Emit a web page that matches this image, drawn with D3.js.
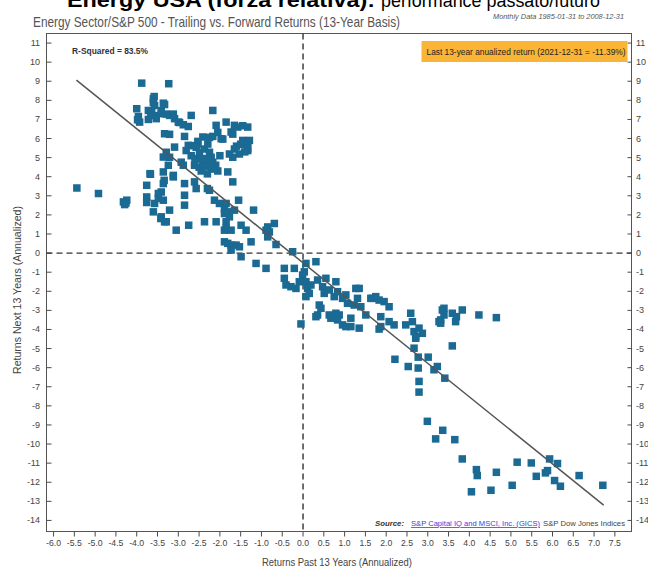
<!DOCTYPE html>
<html><head><meta charset="utf-8">
<script src="https://cdn.jsdelivr.net/npm/d3@7"></script>
<style>
html,body{margin:0;padding:0;background:#fff;overflow:hidden}
svg{display:block}
text{font-family:"Liberation Sans",Arial,sans-serif}
</style></head>
<body><svg id="c" width="648" height="568"></svg>
<script>
// ---- data ----
const pastReturns = [
-3.88,-3.23,-4.0,-3.98,-3.93,-3.96,-3.72,-3.6,-3.58,-3.6,-3.57,-3.66,-3.72,-3.64,-3.53,-3.53,-3.41,-3.41,-3.36,-3.33,
-3.29,-3.21,-3.12,-3.09,-3.0,-2.97,-2.88,-2.76,-2.69,-3.33,-3.21,-3.09,-2.85,-2.76,-2.69,-2.53,-2.53,-2.41,-2.25,-2.17,
-2.17,-2.05,-2.09,-1.97,-1.93,-1.85,-1.73,-1.69,-1.65,-1.57,-1.45,-1.33,-1.45,-1.29,-1.33,-1.33,-1.33,-1.65,-1.53,-1.77,
-1.69,-3.29,-3.21,-3.36,-2.93,-2.81,-2.69,-2.57,-2.49,-2.45,-2.37,-2.29,-2.25,-2.21,-2.41,-2.17,-2.5,-2.35,-2.3,-2.2,
-2.1,-2.0,-1.6,-1.5,-1.4,
-5.44,-4.92,-4.32,-4.24,-4.29,-4.26,-3.76,-3.67,-3.68,-3.76,-3.76,-3.6,-3.57,-3.48,-3.41,-3.48,-3.36,-3.42,-3.41,-3.33,
-3.29,-3.21,-3.05,-3.36,-3.34,-3.36,-3.24,-3.12,-3.12,-2.88,-2.85,-2.85,-2.85,-2.75,-2.61,-2.57,-2.61,-2.37,-2.3,-2.25,
-2.13,-2.09,-2.01,-1.85,-1.81,-1.69,-1.89,-1.89,-1.81,-1.77,-1.85,-1.85,-1.89,-1.73,-1.65,-1.55,-1.49,-1.37,-1.25,-1.19,
-1.89,-1.81,-1.73,-1.61,-1.53,-1.73,-1.49,-1.13,-0.89,-0.89,-0.85,-0.81,-0.85,-0.69,-0.65,-0.45,-0.25,-0.21,0.07,0.31,
-0.45,-0.41,-0.29,-0.17,-0.09,-0.01,0.03,0.07,0.11,0.19,0.07,0.15,-0.05,0.35,0.47,0.55,0.51,0.63,0.79,0.75,
0.83,0.95,1.03,1.07,1.27,1.35,1.31,1.23,1.39,1.51,1.63,1.67,1.75,1.83,1.95,2.07,1.87,2.07,2.19,0.39,
0.43,0.35,0.31,0.63,0.71,0.79,0.87,0.83,0.95,1.03,1.15,1.35,1.15,1.87,1.83,0.67,2.47,2.59,2.63,2.67,
2.79,2.87,2.71,2.71,3.27,3.39,3.39,3.35,3.31,3.31,3.59,3.67,3.69,3.83,4.23,4.65,3.59,2.67,2.77,3.01,
2.21,2.53,2.77,3.15,3.23,3.41,2.79,2.79,
2.99,3.36,3.19,3.65,3.83,4.17,4.19,4.05,4.65,4.52,5.03,5.15,5.49,5.61,5.83,5.88,5.93,6.12,6.05,6.19,6.64,7.21,
-2.45,-2.3,-2.15,-2.05,-2.4,-2.6
];
const nextReturns = [
8.9,8.87,7.56,6.98,6.86,7.15,7.47,8.08,8.2,7.89,7.73,7.21,7.0,7.37,7.04,7.2,7.3,7.46,7.85,7.78,
7.28,7.21,7.28,7.04,6.86,6.84,6.72,6.63,7.21,6.25,6.22,5.55,6.11,5.64,5.63,5.85,5.71,6.08,6.06,7.47,
6.11,6.32,6.69,5.99,5.97,6.86,6.34,6.23,6.69,6.6,6.67,6.6,5.9,5.9,5.8,5.47,5.37,5.45,5.19,5.19,
5.02,5.28,5.02,5.03,4.76,5.37,5.1,5.54,5.28,4.93,5.45,5.71,5.28,5.02,4.76,4.76,4.5,4.55,4.9,4.4,
4.6,5.1,5.6,5.7,5.3,
3.41,3.12,2.68,2.77,2.54,2.62,3.55,4.13,4.16,2.94,2.65,2.16,2.6,3.12,3.2,2.86,2.77,1.81,1.9,1.64,
1.64,2.25,1.2,4.25,3.81,3.64,4.6,3.99,4.07,4.6,3.64,3.03,2.51,1.46,3.73,3.38,4.6,1.64,3.38,3.29,
2.77,1.64,2.6,2.6,4.25,3.73,2.33,2.07,2.16,1.9,1.64,1.29,1.2,1.2,2.25,2.77,1.46,1.2,0.59,2.25,
0.59,0.51,0.42,0.42,0.33,0.16,-0.19,-0.54,-0.8,1.2,1.37,1.11,0.85,1.55,0.45,-0.8,0.07,-0.8,-0.54,-0.45,
-1.32,-1.67,-1.76,-1.85,-1.5,-1.15,-0.98,-1.5,-1.85,-1.67,-2.28,-2.11,-3.71,-1.41,-1.76,-1.32,-2.11,-1.93,-1.5,-2.28,
-2.02,-2.37,-2.19,-2.63,-1.85,-1.85,-2.37,-2.72,-2.81,-3.24,-2.37,-2.37,-2.28,-2.46,-2.54,-2.81,-3.33,-3.59,-3.76,-2.72,
-2.89,-3.24,-3.33,-3.24,-3.33,-3.15,-3.24,-3.5,-3.76,-3.85,-3.41,-3.93,-3.85,-3.85,-3.98,-3.41,-3.76,-3.15,-3.59,-4.11,
-3.93,-4.2,-4.37,-4.46,-3.59,-2.89,-3.24,-2.98,-3.5,-3.67,-3.15,-3.59,-3.33,-2.98,-3.24,-3.38,-4.86,-4.98,-5.45,-5.45,
-5.56,-5.94,-6.02,-6.11,-5.94,-6.55,-6.72,-7.28,
-8.81,-9.28,-9.73,-9.77,-10.78,-11.34,-11.65,-12.5,-11.48,-12.42,-12.16,-10.95,-10.99,-11.69,-11.51,-11.39,-10.78,-11.02,-11.91,-12.21,-11.65,-12.16,
4.3,4.15,4.5,4.3,4.95,4.95
];
const xTicks = d3.range(-12, 16).map(i => i / 2);      // -6.0 … 7.5
const yTicks = d3.range(-14, 12);                       // -14 … 11
const trendSlope = -1.755, trendIntercept = -0.51;      // fitted regression
const trendRange = [-5.45, 7.23];
const rSquared = "83.5%";
const lastReturnNote = "Last 13-year anualized return (2021-12-31 = -11.39%)";

// ---- layout ----
const svg = d3.select("#c");
const L = 46.5, R = 631.5, T = 33.5, B = 531.5;
const x = d3.scaleLinear().domain([-6.17, 7.9]).range([L, R]);
const y = d3.scaleLinear().domain([-14.58, 11.5]).range([B, T]);
const ink = "#4a4a4a";

// heading (cut at top, as in the source image)
const head = svg.append("text").attr("y", 7).attr("font-size", 21).attr("fill", "#000");
head.append("tspan").attr("x", 67).attr("font-weight", "bold")
  .attr("textLength", 308).attr("lengthAdjust", "spacingAndGlyphs").text("Energy USA (forza relativa):");
head.append("tspan").attr("x", 381).attr("font-size", 19)
  .attr("textLength", 219).attr("lengthAdjust", "spacingAndGlyphs").text("performance passato/futuro");

svg.append("text").attr("x", 33).attr("y", 26.5).attr("font-size", 14.5).attr("fill", "#555")
  .attr("textLength", 367).attr("lengthAdjust", "spacingAndGlyphs")
  .text("Energy Sector/S&P 500 - Trailing vs. Forward Returns (13-Year Basis)");
svg.append("text").attr("x", 624).attr("y", 19).attr("text-anchor", "end").attr("font-size", 8)
  .attr("font-style", "italic").attr("fill", "#555")
  .attr("textLength", 131).attr("lengthAdjust", "spacingAndGlyphs")
  .text("Monthly Data 1985-01-31 to 2008-12-31");

// frame
svg.append("rect").attr("x", L).attr("y", T).attr("width", R - L).attr("height", B - T)
  .attr("fill", "none").attr("stroke", "#555").attr("stroke-width", 1);

// axes ticks
const tk = svg.append("g").attr("stroke", ink).attr("stroke-width", 1);
yTicks.forEach(v => {
  tk.append("line").attr("x1", L).attr("x2", L + 5).attr("y1", y(v)).attr("y2", y(v));
  tk.append("line").attr("x1", R - 4).attr("x2", R).attr("y1", y(v)).attr("y2", y(v));
});
xTicks.forEach(v => {
  tk.append("line").attr("x1", x(v)).attr("x2", x(v)).attr("y1", B).attr("y2", B + 5);
});
const tl = svg.append("g").attr("font-size", 9).attr("fill", "#444");
yTicks.forEach(v => {
  tl.append("text").attr("x", 40).attr("y", y(v) + 3).attr("text-anchor", "end").text(String(v));
  tl.append("text").attr("x", 636).attr("y", y(v) + 3).attr("text-anchor", "start").text(String(v));
});
xTicks.forEach(v => {
  tl.append("text").attr("x", x(v)).attr("y", 546).attr("text-anchor", "middle")
    .attr("textLength", v < 0 ? 15 : 12).attr("lengthAdjust", "spacingAndGlyphs").text(v.toFixed(1));
});

// axis titles
svg.append("text").attr("transform", `translate(21,${290}) rotate(-90)`).attr("text-anchor", "middle")
  .attr("font-size", 10.5).attr("fill", "#444").attr("textLength", 168).attr("lengthAdjust", "spacingAndGlyphs")
  .text("Returns Next 13 Years (Annualized)");
svg.append("text").attr("x", 337).attr("y", 566).attr("text-anchor", "middle")
  .attr("font-size", 10.5).attr("fill", "#444").attr("textLength", 150).attr("lengthAdjust", "spacingAndGlyphs")
  .text("Returns Past 13 Years (Annualized)");

// zero reference lines
const dash = svg.append("g").attr("stroke", "#333").attr("stroke-width", 1.4).attr("stroke-dasharray", "6,4");
dash.append("line").attr("x1", x(0)).attr("x2", x(0)).attr("y1", T).attr("y2", B);
dash.append("line").attr("x1", L).attr("x2", R).attr("y1", y(0)).attr("y2", y(0));

// points
const pts = pastReturns.map((v, i) => ({ x: v, y: nextReturns[i] }));
const s = 7.5;
svg.append("g").selectAll("rect").data(pts).join("rect")
  .attr("x", d => x(d.x) - s / 2).attr("y", d => y(d.y) - s / 2)
  .attr("width", s).attr("height", s).attr("fill", "#1a6a94");

// regression line
svg.append("line")
  .attr("x1", x(trendRange[0])).attr("y1", y(trendIntercept + trendSlope * trendRange[0]))
  .attr("x2", x(trendRange[1])).attr("y2", y(trendIntercept + trendSlope * trendRange[1]))
  .attr("stroke", "#555").attr("stroke-width", 1.5);

// annotations
svg.append("text").attr("x", 72).attr("y", 53.5).attr("font-size", 8.5).attr("font-weight", "bold")
  .attr("fill", "#333").attr("textLength", 76).attr("lengthAdjust", "spacingAndGlyphs")
  .text("R-Squared = " + rSquared);
svg.append("rect").attr("x", 421.5).attr("y", 41).attr("width", 206).attr("height", 21).attr("fill", "#fbb536");
svg.append("text").attr("x", 426.5).attr("y", 54.5).attr("font-size", 8.5).attr("fill", "#222")
  .attr("textLength", 199).attr("lengthAdjust", "spacingAndGlyphs").text(lastReturnNote);

const src = svg.append("text").attr("y", 526).attr("font-size", 8);
src.append("tspan").attr("x", 375).attr("font-weight", "bold").attr("font-style", "italic").attr("fill", "#333")
  .attr("textLength", 29).attr("lengthAdjust", "spacingAndGlyphs").text("Source:");
src.append("tspan").attr("x", 411).attr("fill", "#3344dd").attr("text-decoration", "underline")
  .attr("textLength", 129).attr("lengthAdjust", "spacingAndGlyphs").text("S&P Capital IQ and MSCI, Inc. (GICS)");
src.append("tspan").attr("x", 543).attr("fill", "#444")
  .attr("textLength", 82).attr("lengthAdjust", "spacingAndGlyphs").text("S&P Dow Jones Indices");
</script></body></html>
